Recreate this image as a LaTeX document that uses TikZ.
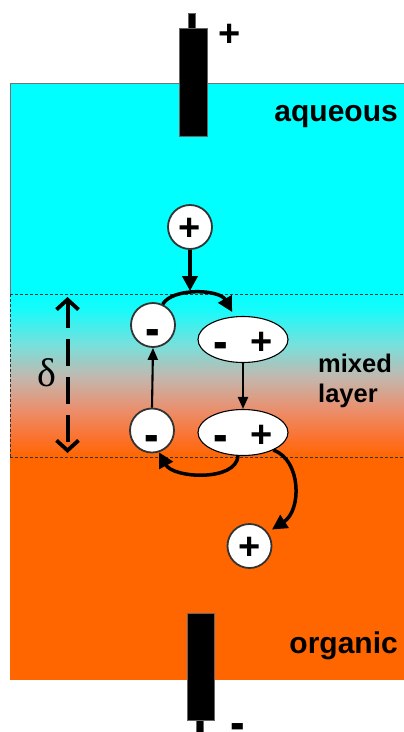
\documentclass[tikz,border=0pt]{standalone}
\usepackage{fontspec}
\setmainfont{Liberation Sans}
\newfontfamily\greekfont{Liberation Serif}
\usetikzlibrary{arrows.meta,shapes.geometric}

\definecolor{aqua}{RGB}{0,255,255}
\definecolor{orgcol}{RGB}{255,102,0}

% colour ramp of the mixed layer, organic side at the bottom
\pgfdeclareverticalshading{mixramp}{100bp}{%
  color(0bp)=(orgcol);
  color(25bp)=(orgcol);
  color(30.2bp)=({rgb,255:red,252;green,112;blue,40});
  color(39.4bp)=({rgb,255:red,235;green,142;blue,108});
  color(49.2bp)=({rgb,255:red,196;green,182;blue,172});
  color(59.4bp)=({rgb,255:red,120;green,224;blue,220});
  color(70.1bp)=({rgb,255:red,25;green,250;blue,250});
  color(75bp)=(aqua);
  color(100bp)=(aqua)}

% heavier minus sign, and signs set on a box of no height
\newcommand{\heavyminus}{\scalebox{1.15}[1.4]{-}}
\newcommand{\lowered}[2]{\raisebox{#1}[0pt][0pt]{#2}}

\begin{document}
\begin{tikzpicture}[x=1pt,y=-1pt,
  ion/.style={circle, draw=black!80, line width=1.8pt, fill=white,
    minimum size=44pt, inner sep=0pt, font=\fontsize{38}{38}\selectfont\bfseries},
  pair/.style={ellipse, draw=black, line width=1.1pt, fill=white,
    minimum width=90pt, minimum height=46pt, inner sep=0pt,
    font=\fontsize{38}{38}\selectfont\bfseries},
  bigarrow/.style={line width=3.5pt, -{Triangle[length=15pt,width=15pt]}},
  smallarrow/.style={line width=2.1pt, -{Triangle[length=12pt,width=10pt]}},
  phase/.style={font=\fontsize{30}{30}\selectfont\bfseries, inner sep=0pt},
  mixlbl/.style={font=\fontsize{25.5}{25.5}\selectfont\bfseries, inner sep=0pt},
  sign/.style={font=\fontsize{38}{38}\selectfont\bfseries, inner sep=0pt},
  boundary/.style={line width=0.6pt, black!80, dash pattern=on 3pt off 2pt},
  electrode/.style={fill=black, draw=black!60, line width=0.4pt},
  thickness/.style={line width=4pt, dash pattern=on 27pt off 11pt,
    {Straight Barb[length=10pt,width=22pt,line width=3.8pt]}-{Straight Barb[length=10pt,width=22pt,line width=3.8pt]}},
]
\path[use as bounding box] (0,0) rectangle (404,732);

% phases
\fill[aqua] (10,83) rectangle (404,294);
\draw[black!55, line width=0.6pt] (10,294) -- (10,83) -- (404,83);
\shade[shading=mixramp] (10,294) rectangle (404,457);
\fill[orgcol] (10,457) rectangle (404,680);
\draw[boundary] (10,294) -- (404,294);
\draw[boundary] (10,457) -- (404,457);
\draw[boundary] (10,294) -- (10,457);

% electrodes
\draw[electrode] (188,13) rectangle (195,28);
\draw[electrode] (179,28) rectangle (207,136);
\draw[electrode] (187,613) rectangle (214,720);
\draw[electrode] (196,720) rectangle (203,732);
\node[sign] (anode) at (230,35) {+};
\node[sign] (cathode) at (237.5,724) {\lowered{-16.6pt}{\heavyminus}};

% phase labels
\node[phase, anchor=base east] (aq) at (398,121) {aqueous};
\node[phase, anchor=base east] (org) at (398,653) {organic};
\node[mixlbl, anchor=base west] (mixed) at (318,372) {mixed};
\node[mixlbl, anchor=base west] (layer) at (318,402) {layer};

% layer thickness
\coordinate (dtop) at (67.5,297);
\coordinate (dbot) at (67.5,453);
\draw[thickness] (dtop) -- (dbot);
\node[font=\greekfont\fontsize{40}{40}\selectfont, inner sep=0pt] (delta) at (47,373) {δ};

% ions
\node[ion] (p1) at (190,227) {\lowered{-13.4pt}{+}};
\node[ion] (m1) at (153,325) {\lowered{-21.6pt}{\heavyminus}};
\node[ion] (m2) at (152,430.5) {\lowered{-21.6pt}{\heavyminus}};
\node[ion] (p2) at (249.5,546) {\lowered{-13.4pt}{+}};
\node[pair] (e1) at (243,339.5) {\lowered{-20pt}{\heavyminus}\hspace{22pt}\lowered{-15pt}{+}};
\node[pair] (e2) at (243,432.5) {\lowered{-20pt}{\heavyminus}\hspace{22pt}\lowered{-15pt}{+}};

% transfer steps
\coordinate (ptop) at (190,291);
\draw[bigarrow, line width=3.8pt] (p1.south) -- (ptop);
\draw[bigarrow, shorten >=5pt] (m1.65) .. controls +(10,-17) and +(-15,-27) .. (e1.110);
\draw[smallarrow] (e1.south) -- (e2.north);
\draw[smallarrow] (m2.north) -- (m1.south);
\draw[bigarrow] (e2.258) .. controls +(-2,26) and +(14,26) .. (m2.-72);
\draw[bigarrow, shorten >=5pt] (e2.-30) .. controls +(28,10) and +(34,-22) .. (p2.37);
\end{tikzpicture}
\end{document}
